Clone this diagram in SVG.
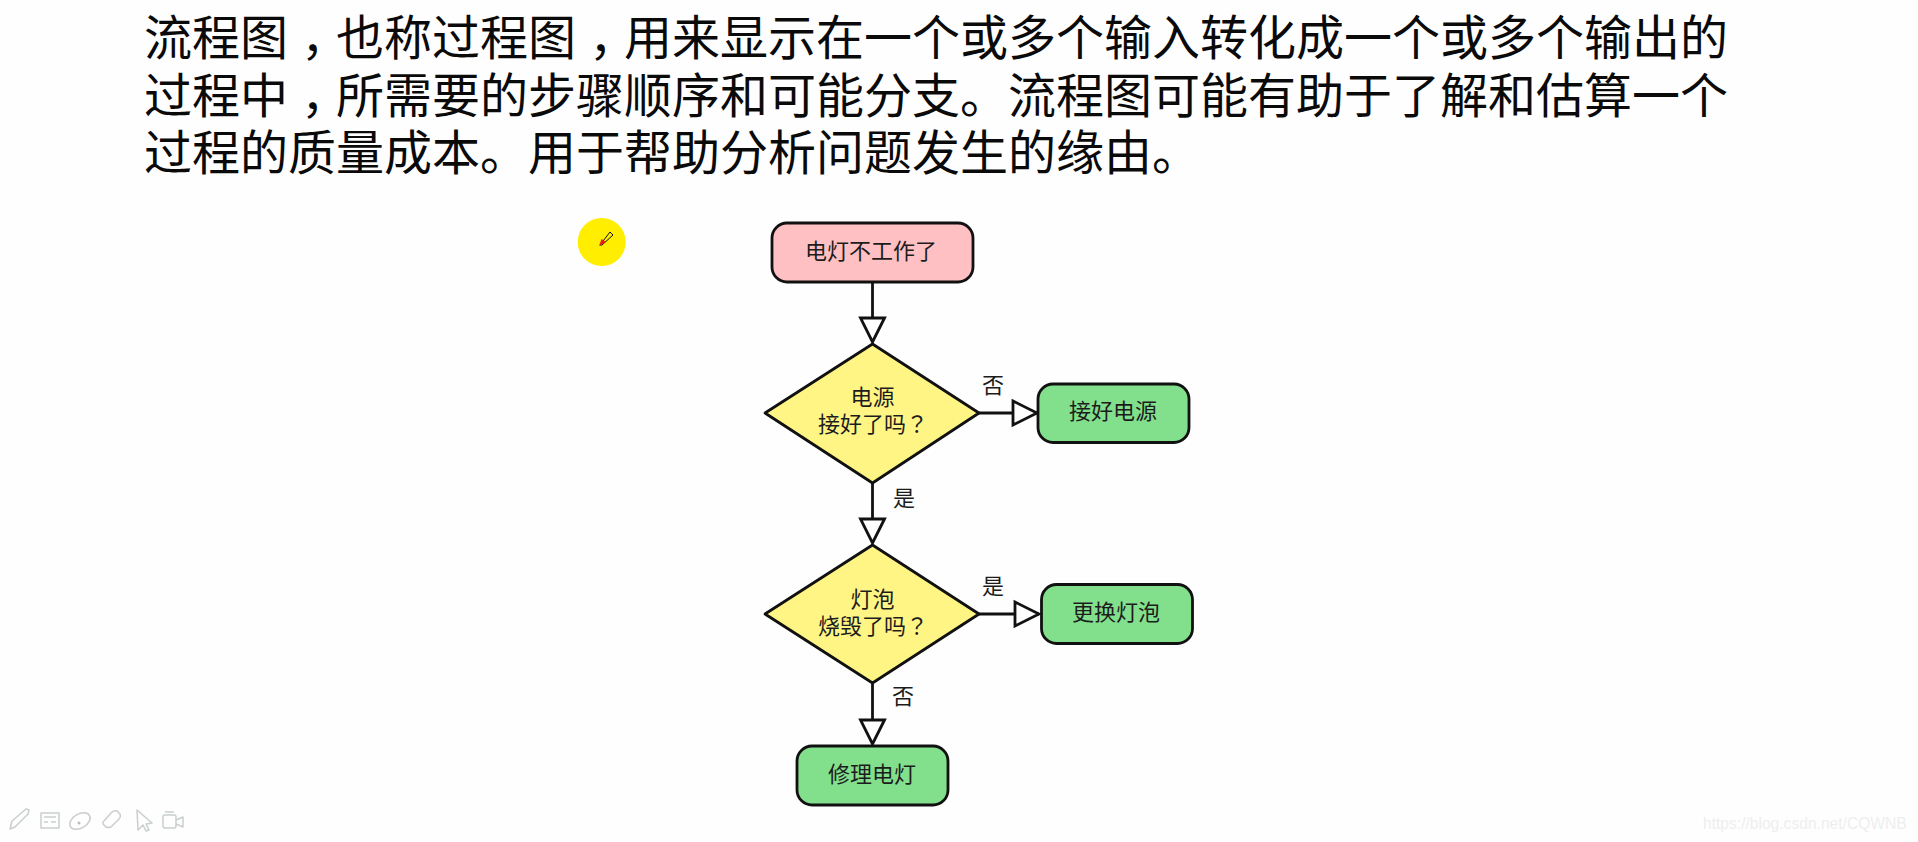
<svg xmlns="http://www.w3.org/2000/svg" width="1918" height="842" viewBox="0 0 1918 842">
<style>
.h{font-family:"Noto Sans CJK SC","Noto Sans",sans-serif;font-size:48px;fill:#0a0a0a}
.t{font-family:"Noto Sans CJK SC","Noto Sans",sans-serif;font-size:22px;fill:#1c1c1c;text-anchor:middle}
.f{font-family:"Noto Sans CJK TC","Noto Sans",sans-serif}
.n{stroke:#111;stroke-width:2.8;stroke-linejoin:round}
.pink{fill:#ffc0c3}.yel{fill:#fff585}.grn{fill:#82e08c}
.c{fill:none;stroke:#111;stroke-width:2.8;marker-end:url(#a)}
.i{fill:none;stroke:#c9cfcb;stroke-width:1.5;stroke-linejoin:round}
</style>
<defs>
<marker id="a" markerUnits="userSpaceOnUse" markerWidth="30" markerHeight="32" viewBox="0 0 30 32" refX="27" refY="16" orient="auto">
<polygon points="3,4 27,16 3,28" fill="#fff" stroke="#111" stroke-width="2.8"/>
</marker>
</defs>
<rect width="1918" height="842" fill="#fefefe"/>
<g id="heading">
<text class="h" x="144" y="55">流程图<tspan dx="13">&#xFF0C;</tspan><tspan dx="-13">也称过程图</tspan><tspan dx="13">&#xFF0C;</tspan><tspan dx="-13">用来显示在一个或多个输入转化成一个或多个输出的</tspan></text>
<text class="h" x="144" y="113">过程中<tspan dx="13">&#xFF0C;</tspan><tspan dx="-13">所需要的步骤顺序和可能分支。流程图可能有助于了解和估算一个</tspan></text>
<text class="h" x="144" y="170">过程的质量成本。用于帮助分析问题发生的缘由。</text>
</g>
<g id="pointer">
<circle cx="601.7" cy="242" r="24" fill="#ffee00"/>
<path d="M600 245l10-13 3 3-11 10z" fill="#ffee00" stroke="#111" stroke-width="1"/>
<path d="M599 246l2.500-7 4.500 3z" fill="#e8201c"/>
</g>
<g id="connectors">
<path class="c" d="M872.500 282V342"/>
<path class="c" d="M979 413H1037"/>
<path class="c" d="M872.500 483V543"/>
<path class="c" d="M979 614H1039"/>
<path class="c" d="M872.500 684V744"/>
</g>
<g id="n-start"><rect class="n pink" x="772" y="223" width="201" height="59" rx="15"/><text class="t" x="871" y="259">电灯不工作了</text></g>
<g id="n-power"><polygon class="n yel" points="765,413 872.500,344 979,413 872.500,483"/><text class="t" x="872.500" y="405">电源</text><text class="t" x="873" y="432">接好了吗<tspan class="f">&#xFF1F;</tspan></text></g>
<g id="n-plug"><rect class="n grn" x="1038" y="384" width="151" height="58.500" rx="15"/><text class="t" x="1113" y="419">接好电源</text></g>
<g id="n-bulb"><polygon class="n yel" points="765,614 872.500,545 979,614 872.500,683"/><text class="t" x="872.500" y="607">灯泡</text><text class="t" x="873" y="634">烧毁了吗<tspan class="f">&#xFF1F;</tspan></text></g>
<g id="n-replace"><rect class="n grn" x="1041.500" y="584.500" width="151" height="59" rx="15"/><text class="t" x="1116" y="620">更换灯泡</text></g>
<g id="n-repair"><rect class="n grn" x="797" y="746" width="151" height="59" rx="15"/><text class="t" x="872" y="782">修理电灯</text></g>
<g id="labels">
<text class="t" x="993" y="393">否</text>
<text class="t" x="904" y="506">是</text>
<text class="t" x="993" y="594">是</text>
<text class="t" x="903" y="704">否</text>
</g>
<g id="toolbar">
<path class="i" d="M10 829l2-8 14-12 3 1-1 4-13 13z"/>
<rect class="i" x="41" y="813" width="18" height="15" fill="#eee"/><path class="i" d="M44 817h12M44 822h4M51 822h5"/>
<ellipse class="i" cx="80" cy="821" rx="11" ry="7" transform="rotate(-30 80 821)"/><circle cx="79" cy="823" r="1.500" fill="#bbb"/>
<path class="i" d="M103 822l9-10q2-2 5-1l3 3q1 3-1 5l-8 8q-3 1-5 0l-3-3z"/>
<path class="i" d="M137 810l1 20 5-5 3 6 3-1-3-6 6-1z"/>
<rect class="i" x="163" y="815" width="13" height="13" rx="2"/><path class="i" d="M165 812h9M176 820l7-3v10l-7-3"/>
</g>
<text id="watermark" x="1703" y="829" font-family="Liberation Sans,Arial,sans-serif" font-size="15.600" fill="#eeeeee">https://blog.csdn.net/CQWNB</text>
</svg>
